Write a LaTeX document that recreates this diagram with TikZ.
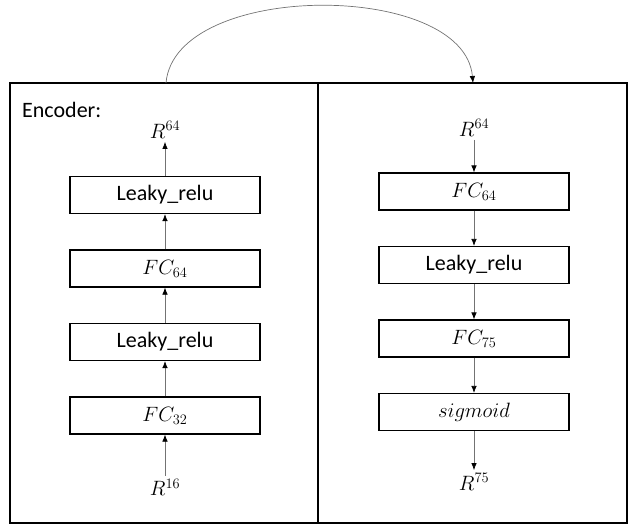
\documentclass[tikz,border=0pt]{standalone}
\usepackage{fontspec}
\setmainfont{Carlito}
\usetikzlibrary{arrows.meta}

\begin{document}
\begin{tikzpicture}[x=1pt,y=-1pt,->,>={Latex[length=7pt,width=5.5pt,color=black]},node distance=73.5pt,every node/.style={font=\fontsize{22}{26}\selectfont},layer/.style={rectangle,draw,line width=1.2pt,minimum width=190pt,minimum height=37pt,inner sep=0pt}]
            \useasboundingbox (0,0) rectangle (634,525);
            \draw[-,line width=1.5pt] (10,83) rectangle (627,523);
            \draw[-,line width=1.5pt] (318,83) -- (318,523);
            \coordinate (encTop) at (166,83);
            \coordinate (decTop) at (473,83);
            \node[anchor=west,inner sep=0pt] (enc) at (22,110) {Encoder:};

            % encoder
            \node[layer] (l4) at (165,195) {Leaky\_relu};
            \node[layer] (l3) [below of = l4] {$FC_{64}$};
            \node[layer] (l2) [below of = l3] {Leaky\_relu};
            \node[layer] (l1) [below of = l2] {$FC_{32}$};
            \node[] (lin) [below of = l1, node distance = 72pt] {$R^{16}$};
            \node[] (lout) [above of = l4, node distance = 65pt] {$R^{64}$};

            % decoder
            \node[layer] (r1) at (474,191.5) {$FC_{64}$};
            \node[layer] (r2) [below of = r1] {Leaky\_relu};
            \node[layer] (r3) [below of = r2] {$FC_{75}$};
            \node[layer] (r4) [below of = r3] {$sigmoid$};
            \node[] (rin) [above of = r1, node distance = 63.5pt] {$R^{64}$};
            \node[] (rout) [below of = r4, node distance = 70pt] {$R^{75}$};

            \path[every edge/.style={draw=black!55,line width=0.7pt}]
                (lin) edge (l1)
                (l1) edge (l2)
                (l2) edge (l3)
                (l3) edge (l4)
                (l4) edge (lout)
                (rin) edge (r1)
                (r1) edge (r2)
                (r2) edge (r3)
                (r3) edge (r4)
                (r4) edge (rout)
                (encTop) edge [out=85, in=95, looseness=0.86] (decTop)
                ;
        \end{tikzpicture}
\end{document}
